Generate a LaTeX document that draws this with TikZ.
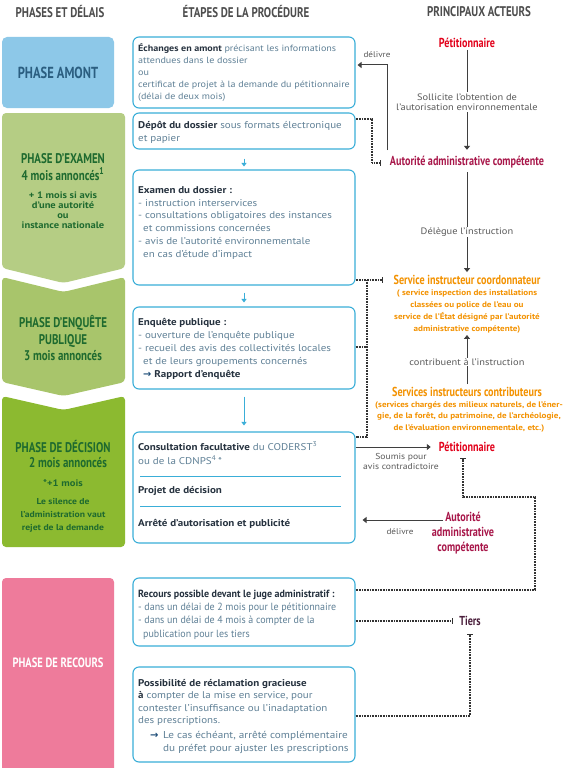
\documentclass[tikz,border=0pt]{standalone}
\usepackage{fontspec}
\setmainfont{PT Sans}[FakeStretch=1.12]
\newfontfamily\cond[FakeStretch=0.78]{PT Sans}
\newfontfamily\semicond[FakeStretch=0.96]{PT Sans}
\newfontfamily\djv{DejaVu Sans}
\usetikzlibrary{arrows.meta}
\definecolor{boxblue}{HTML}{3AAED8}
\definecolor{amontc}{HTML}{8DC8E8}
\definecolor{amonttxt}{HTML}{2B5E80}
\definecolor{examc}{HTML}{B5CD84}
\definecolor{enqc}{HTML}{A8C56B}
\definecolor{decic}{HTML}{8CBA30}
\definecolor{greentxt}{HTML}{1E6A2F}
\definecolor{recoursc}{HTML}{EE7B9B}
\definecolor{txtdark}{HTML}{26323F}
\definecolor{txtgray}{HTML}{5F8096}
\definecolor{hdrc}{HTML}{4D4D4D}
\definecolor{petred}{HTML}{E2001A}
\definecolor{autred}{HTML}{A8174A}
\definecolor{orng}{HTML}{F39200}
\definecolor{tiersc}{HTML}{4B1F3C}
\definecolor{arrgray}{HTML}{3F3F3F}
\definecolor{lblgray}{HTML}{5A5A5A}
\definecolor{dotc}{HTML}{333333}
\definecolor{navy}{HTML}{1F4E79}
\newcommand\fst{\rule{0pt}{10pt}}
\newcommand\dk[1]{\textcolor{txtdark}{\bfseries #1}}
\newcommand\narr{{\color{navy}\djv\bfseries →}}
\begin{document}
\begin{tikzpicture}[x=1pt,y=-1pt,
  hdr/.style={font=\cond\bfseries\fontsize{14}{16}\selectfont, text=hdrc, inner sep=0},
  stepbox/.style={draw=boxblue, line width=1.1pt, rounded corners=6pt, fill=white, inner sep=0, minimum width=222pt},
  btxt/.style={anchor=north west, inner sep=0, align=left, text=txtgray, font=\fontsize{9.8}{12.8}\selectfont},
  phasetxt/.style={font=\cond\bfseries\fontsize{14}{16.5}\selectfont, align=center, inner sep=0, text=greentxt},
  phasesmall/.style={font=\bfseries\fontsize{9.4}{10}\selectfont, align=center, inner sep=0, text=greentxt},
  actor/.style={font=\cond\bfseries\fontsize{13}{15}\selectfont, inner sep=0, align=center},
  subt/.style={font=\bfseries\fontsize{8.1}{12}\selectfont, text=orng, align=center, inner sep=0},
  lbl/.style={font=\fontsize{9.3}{10.3}\selectfont, text=lblgray, align=center, fill=white, inner sep=1pt},
  garrow/.style={draw=arrgray, line width=1pt, -{Triangle[length=4pt,width=6pt]}},
  barrow/.style={draw=boxblue, line width=1pt, -{Triangle[length=3.5pt,width=5pt]}},
  dotl/.style={draw=dotc, line width=1.2pt, dash pattern=on 0.8pt off 0.8pt},
  barend/.style={-{Bar[width=6pt,line width=1.2pt]}}
]
\useasboundingbox (0,0) rectangle (568,768);
\fill[white] (0,0) rectangle (568,768);

% headers
\node[hdr] (h1) at (60,12) {PHASES ET DÉLAIS};
\node[hdr] (h2) at (246,12) {ÉTAPES DE LA PROCÉDURE};
\node[hdr] (h3) at (479,12) {PRINCIPAUX ACTEURS};

% phase shapes
\fill[amontc, rounded corners=5pt] (2,37) rectangle (114,108);
\fill[examc, rounded corners=4pt] (2,113) -- (125,113) -- (125,268) -- (63.5,283) -- (2,268) -- cycle;
\fill[enqc, rounded corners=4pt] (2,277) -- (63.5,292) -- (125,277) -- (125,382) -- (63.5,396) -- (2,382) -- cycle;
\fill[decic, rounded corners=4pt] (2,396) -- (63.5,410) -- (125,396) -- (125,547) -- (2,547) -- cycle;
\fill[recoursc, rounded corners=4pt] (2,578) rectangle (114,780);

% phase texts
\node[phasetxt, text=amonttxt, font=\cond\bfseries\fontsize{16}{18}\selectfont] (pa) at (58,73) {PHASE AMONT};
\node[phasetxt] (pe1) at (63,167) {PHASE D’EXAMEN\\4 mois annoncés\textsuperscript{1}};
\node[phasesmall] (pe2) at (63,210) {+ 1 mois si avis\\d’une autorité\\ou\\instance nationale};
\node[phasetxt] (pq) at (63,338.5) {PHASE D’ENQUÊTE\\PUBLIQUE\\3 mois annoncés};
\node[phasetxt] (pd1) at (63,447) {PHASE DE DÉCISION};
\node[phasetxt] (pd2) at (68,463) {2 mois annoncés};
\node[phasesmall] (pd3) at (63,483) {*+1 mois};
\node[phasesmall, font=\bfseries\fontsize{8.6}{13}\selectfont] (pd4) at (63,515) {Le silence de\\l’administration vaut\\rejet de la demande};
\node[phasetxt, text=white, font=\cond\bfseries\fontsize{13.5}{15}\selectfont] (pr) at (58,663) {PHASE DE RECOURS};

% procedure boxes
\node[stepbox, minimum height=71pt] (box1) at (244,72.5) {};
\node[stepbox, minimum height=36pt] (depot) at (244,131) {};
\node[stepbox, minimum height=115pt] (examen) at (244,227.5) {};
\node[stepbox, minimum height=82pt] (enquete) at (244,348) {};
\node[stepbox, minimum height=111pt] (decision) at (244,487.5) {};
\node[stepbox, minimum height=68pt] (recours) at (244,612) {};
\node[stepbox, minimum height=95pt] (reclam) at (244,714.5) {};

\draw[boxblue, line width=0.8pt] (140,476) -- (341,476);
\draw[boxblue, line width=0.8pt] (140,506) -- (341,506);

% box texts
\node[btxt, font=\fontsize{9}{12.1}\selectfont] (t1) at (138,41) {\fst\dk{Échanges en amont} précisant les informations\\attendues dans le dossier\\ou\\certificat de projet à la demande du pétitionnaire\\(délai de deux mois)};
\node[btxt, font=\fontsize{9.8}{13}\selectfont] (t2) at (138,118) {\fst\dk{Dépôt du dossier} sous formats électronique\\et papier};
\node[btxt] (t3) at (138,183) {\fst\dk{Examen du dossier :}\\- instruction interservices\\- consultations obligatoires des instances\\\hspace*{5pt}et commissions concernées\\- avis de l’autorité environnementale\\\hspace*{5pt}en cas d’étude d’impact};
\node[btxt, font=\fontsize{9.8}{13}\selectfont] (t4) at (138,315) {\fst\dk{Enquête publique :}\\- ouverture de l’enquête publique\\- recueil des avis des collectivités locales\\\hspace*{5pt}et de leurs groupements concernés\\\hspace*{5pt}\narr\ \dk{Rapport d’enquête}};
\node[btxt, font=\fontsize{9.8}{14}\selectfont] (t5) at (138,440) {\fst\dk{Consultation facultative} du CODERST\textsuperscript{3}\\ou de la CDNPS\textsuperscript{4}\,*};
\node[btxt, anchor=base west] (t6) at (138,493) {\dk{Projet de décision}};
\node[btxt, anchor=base west] (t7) at (138,526) {\dk{Arrêté d’autorisation et publicité}};
\node[btxt, font=\semicond\fontsize{10.4}{13.3}\selectfont] (t8) at (138,587) {\fst\dk{Recours possible devant le juge administratif :}\\- dans un délai de 2 mois pour le pétitionnaire\\- dans un délai de 4 mois à compter de la\\\hspace*{5pt}publication pour les tiers};
\node[btxt, font=\fontsize{9.8}{12.5}\selectfont] (t9) at (138,676) {\fst\dk{Possibilité de réclamation gracieuse}\\\dk{à} compter de la mise en service, pour\\contester l’insuffisance ou l’inadaptation\\des prescriptions.};
\node[btxt, anchor=base west, font=\fontsize{10}{12}\selectfont] (t10a) at (150,738) {\narr};
\node[btxt, font=\fontsize{10}{13}\selectfont] (t10) at (163,728) {\fst Le cas échéant, arrêté complémentaire\\du préfet pour ajuster les prescriptions};

% blue arrows
\draw[barrow] ([yshift=-9pt]depot.south) -- ([yshift=3pt]examen.north);
\draw[barrow] ([yshift=-7pt]examen.south) -- ([yshift=4pt]enquete.north);
\draw[barrow] ([yshift=-7pt]enquete.south) -- ([yshift=6pt]decision.north);

% actors
\node[actor, text=petred] (pet1) at (467,43) {Pétitionnaire};
\node[actor, text=autred] (aut1) at (467,162) {Autorité administrative compétente};
\node[actor, text=orng] (sic) at (467,280) {Service instructeur coordonnateur};
\node[subt] (sicsub) at (467,312) {( service inspection des installations\\classées ou police de l’eau ou\\service de l’État désigné par l’autorité\\administrative compétente)};
\node[actor, text=orng] (sc) at (467,392) {Services instructeurs contributeurs};
\node[subt, font=\bfseries\fontsize{8.1}{11.5}\selectfont] (scsub) at (469,416.5) {(services chargés des milieux naturels, de l’éner-\\gie, de la forêt, du patrimoine, de l’archéologie,\\de l’évaluation environnementale, etc.)};
\node[actor, text=petred] (pet2) at (467,447) {Pétitionnaire};
\node[actor, text=autred] (aut2) at (463,533) {Autorité\\administrative\\compétente};
\node[actor, text=tiersc] (tiers) at (470,621) {Tiers};

% gray arrows
\draw[garrow, shorten <=2pt, shorten >=6pt] (pet1) -- (aut1);
\node[lbl] (l1) at (467,102) {Sollicite l’obtention de\\l’autorisation environnementale};
\draw[garrow, shorten <=4pt, shorten >=3pt] (aut1) -- (sic);
\node[lbl] (l2) at (467,232) {Délègue l’instruction};
\draw[garrow, shorten <=3pt, shorten >=1pt] (sc) -- (sicsub);
\node[lbl] (l3) at (467,362) {contribuent à l’instruction};

\coordinate (d1s) at (387,150);
\draw[garrow] (d1s) |- ([xshift=2pt,yshift=7.5pt]box1.east);
\node[lbl, fill=none, font=\fontsize{8.2}{9}\selectfont] (l4) at (377,55) {délivre};

\draw[garrow, shorten >=8pt] ([yshift=40.5pt]decision.east) -- (pet2.west);
\node[lbl, fill=none, font=\fontsize{8.6}{9.5}\selectfont] (l5) at (401,461.5) {Soumis pour\\avis contradictoire};

\coordinate (d2s) at (443,520);
\draw[garrow] (d2s) -- ([xshift=7pt,yshift=-32.5pt]decision.east);
\node[lbl, fill=none, font=\fontsize{8.2}{9}\selectfont] (l6) at (400,532) {délivre};

% dotted connectors
\coordinate (c1) at (372,163);
\coordinate (c1e) at (381,163);
\draw[dotl, barend] ([yshift=12pt]depot.east) -| (c1) -- (c1e);

\coordinate (c2) at (367,280);
\coordinate (c2e) at (383,280);
\coordinate (c3) at (367,437);
\coordinate (c4) at (367,347);
\draw[dotl, barend] ([yshift=-52.5pt]examen.east) -- (c2e);
\draw[dotl] (c2) -- (c3) -- ([yshift=50.5pt]decision.east);
\draw[dotl] ([yshift=1pt]enquete.east) -- (c4);

\coordinate (p1) at (535,590);
\coordinate (p2) at (535,497);
\coordinate (p3) at (463,497);
\coordinate (p4) at (463,458);
\draw[dotl, barend] ([yshift=22pt]recours.east) -- (p1) -- (p2) -- (p3) -- (p4);

\coordinate (t1e) at (453,621);
\draw[dotl, barend] ([yshift=-9pt]recours.east) -- (t1e);
\coordinate (q1) at (470,716);
\coordinate (q2) at (470,634);
\draw[dotl, barend] ([yshift=-1.5pt]reclam.east) -- (q1) -- (q2);
\end{tikzpicture}
\end{document}
